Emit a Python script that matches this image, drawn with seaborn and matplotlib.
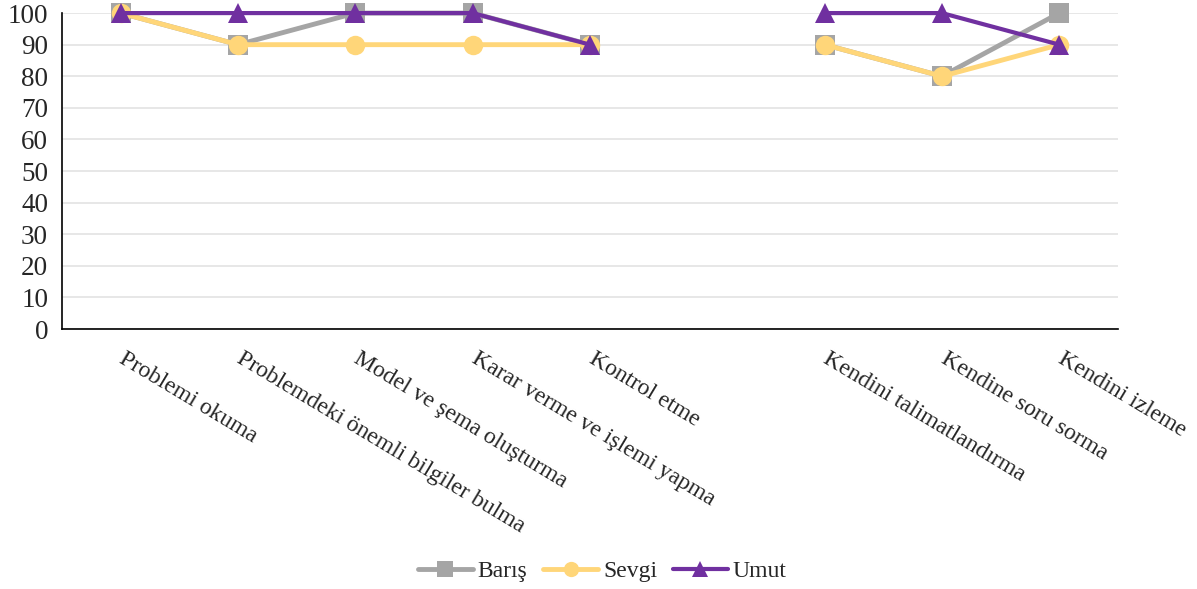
import numpy as np
import pandas as pd
import matplotlib.pyplot as plt
import seaborn as sns

# 데이터
categories = ["Problemi okuma", "Problemdeki önemli bilgiler bulma", "Model ve şema oluşturma",
              "Karar verme ve işlemi yapma", "Kontrol etme", "",
              "Kendini talimatlandırma", "Kendine soru sorma", "Kendini izleme"]
baris = [100, 90, 100, 100, 90, np.nan, 90, 80, 100]
sevgi = [100, 90, 90, 90, 90, np.nan, 90, 80, 90]
umut = [100, 100, 100, 100, 90, np.nan, 100, 100, 90]
names = ["Barış", "Sevgi", "Umut"]
colors = {"Barış": "#A5A5A5", "Sevgi": "#FFD679", "Umut": "#7030A0"}
markers = {"Barış": "s", "Sevgi": "o", "Umut": "^"}

rows = []
for name, vals in zip(names, [baris, sevgi, umut]):
    seg = 0
    for i, v in enumerate(vals):
        if np.isnan(v):
            seg += 1
            continue
        rows.append({"pos": i, "value": v, "person": name, "seg": seg})
df = pd.DataFrame(rows)

sns.set_style("white")
plt.rcParams['font.family'] = ['Liberation Serif', 'DejaVu Serif']

fig = plt.figure(figsize=(11.97, 5.89), dpi=100)
ax = fig.add_axes([0.0518, 0.4414, 0.8822, 0.5364])

for name in names:
    sub = df[df["person"] == name]
    lw = 3.0 if name == "Umut" else 3.5
    sns.lineplot(data=sub, x="pos", y="value", units="seg", estimator=None,
                 color=colors[name], marker=markers[name], markersize=14,
                 markeredgewidth=0, linewidth=lw, ax=ax, legend=False, clip_on=False)

ax.set_xlim(-0.5, len(categories) - 0.5)
ax.set_ylim(0, 100)
ax.set_yticks(range(0, 101, 10))
# 라벨 시작점을 살짝 오른쪽으로
ax.set_xticks(np.arange(len(categories)) + 0.05)
ax.set_xticklabels(categories, rotation=-31, ha="left", va="top",
                   rotation_mode="anchor", fontsize=17)
ax.set_xticks(np.arange(-0.5, len(categories), 1), minor=True)
ax.tick_params(axis="x", which="major", length=0, pad=14)
ax.tick_params(axis="x", which="minor", length=6, width=1.2, direction="out", color="black")
ax.tick_params(axis="y", length=5, width=1.2, direction="out", color="black", labelsize=19.5, pad=5)
ax.grid(axis="y", color="#E3E3E3", linewidth=1.2)
ax.grid(axis="x", visible=False)
ax.set_axisbelow(True)
ax.set_xlabel("")
ax.set_ylabel("")
for s in ["top", "right"]:
    ax.spines[s].set_visible(False)
for s in ["left", "bottom"]:
    ax.spines[s].set_color("black")
    ax.spines[s].set_linewidth(1.2)

handles = [plt.Line2D([], [], color=colors[n], marker=markers[n], markersize=11,
                      markeredgewidth=0, linewidth=3.5 if n != "Umut" else 3.0) for n in names]
fig.legend(handles, names, loc="center", bbox_to_anchor=(0.503, 0.03), ncol=3,
           frameon=False, fontsize=17, handlelength=2.35, columnspacing=0.65, handletextpad=0.2)

fig.savefig("out.png", dpi=100)
